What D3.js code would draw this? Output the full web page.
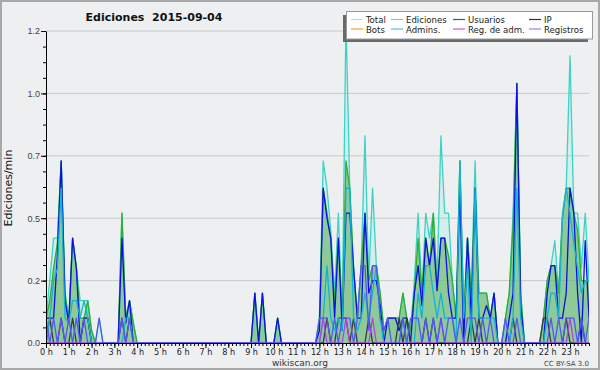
<!DOCTYPE html>
<html lang="es">
<head>
  <meta charset="UTF-8">
  <title>Ediciones 2015-09-04</title>
  <style>
    html, body { margin: 0; padding: 0; background: #fff; }
    #main { width: 600px; height: 370px; }
    svg { display: block; font-family: "DejaVu Sans", sans-serif; }
    .cond { font-family: "DejaVu Sans Condensed", "DejaVu Sans", sans-serif; font-stretch: condensed; }
  </style>
</head>
<body>
  <div id="main"></div>
  <script src="https://d3js.org/d3.v7.min.js"></script>
  <script>
    // 1. datos: ediciones/min en tramos de 10 minutos (6 por hora, 144 en total)
    const total = [
      .10, .25, .42, .42, .73, .20,  .10, .42, .30, .17, .17, .17,   // 0h 1h
      .05, 0, .10, 0, 0, 0,          0, 0, .52, .10, .17, .08,       // 2h 3h
      0, 0, 0, 0, 0, 0,  0, 0, 0, 0, 0, 0,  0, 0, 0, 0, 0, 0,  0, 0, 0, 0, 0, 0,  0, 0, 0, 0, 0, 0, // 4h-8h
      0, .20, 0, .20, 0, 0,          0, .10, 0, 0, 0, 0,             // 9h 10h
      0, 0, 0, 0, 0, 0,                                             // 11h
      .10, .73, .62, .45, .20, .52,  .10, 1.30, .62, .30, .10, .31,  // 12h 13h
      .83, .25, .62, .31, .20, .05,  .10, .10, .10, .10, .20, .10,   // 14h 15h
      .05, .25, .52, .20, .52, .42,  .52, .25, .83, .52, .52, .25,   // 16h 17h
      .10, .73, .10, .42, .20, .73,  .20, .20, .20, .10, .20, 0,     // 18h 19h
      0, .10, .20, .52, 1.04, .20,   0, 0, 0, 0, 0, .10,             // 20h 21h
      .25, .31, .41, .20, .52, .62,  1.15, .52, .52, .30, .52, .25   // 22h 23h
    ]
    const ediciones = [
      .10, .17, .30, .40, .73, .20,  .08, .42, .30, .10, .10, .17,
      .05, 0, 0, 0, 0, 0,            0, 0, .52, .10, .17, .08,
      0, 0, 0, 0, 0, 0,  0, 0, 0, 0, 0, 0,  0, 0, 0, 0, 0, 0,  0, 0, 0, 0, 0, 0,  0, 0, 0, 0, 0, 0,
      0, .20, 0, .20, 0, 0,          0, .10, 0, 0, 0, 0,
      0, 0, 0, 0, 0, 0,
      .08, .62, .52, .42, .15, .42,  .10, .73, .62, .30, .10, .31,
      .52, .25, .31, .31, .20, .05,  .10, .10, .10, .10, .20, .10,
      .05, .20, .42, .20, .42, .31,  .52, .21, .42, .42, .35, .25,
      .10, .73, .10, .42, .20, .62,  .20, .20, .20, .10, .20, 0,
      0, .10, .20, .47, 1.04, .20,   0, 0, 0, 0, 0, .10,
      .25, .31, .31, .20, .50, .62,  .62, .52, .45, .25, .25, .25
    ]
    const usuarios = [
      .10, .10, .10, .35, .73, .17,  .08, .42, .30, 0, .10, .10,
      0, 0, 0, 0, 0, 0,              0, 0, .42, .08, .17, 0,
      0, 0, 0, 0, 0, 0,  0, 0, 0, 0, 0, 0,  0, 0, 0, 0, 0, 0,  0, 0, 0, 0, 0, 0,  0, 0, 0, 0, 0, 0,
      0, .20, 0, .20, 0, 0,          0, .10, 0, 0, 0, 0,
      0, 0, 0, 0, 0, 0,
      .05, .62, .50, .42, .10, .42,  .05, .52, .52, .30, .10, .10,
      .52, .20, .25, .25, .15, 0,    .10, .10, .10, .05, .10, .10,
      0, .20, .31, .15, .42, .31,    .42, .21, .42, .42, .20, .10,
      .10, .62, 0, .42, .10, .62,    .10, .10, .15, .10, .20, 0,
      0, 0, .10, .20, 1.04, .15,     0, 0, 0, 0, 0, 0,
      .20, .31, .31, .10, .10, .20,  .62, .52, .20, 0, .41, .10
    ]
    const ip = [
      0, .10, 0, 0, .10, 0,          0, .10, 0, 0, .10, .10,
      0, 0, 0, 0, 0, 0,              0, 0, .10, 0, .10, 0,
      0, 0, 0, 0, 0, 0,  0, 0, 0, 0, 0, 0,  0, 0, 0, 0, 0, 0,  0, 0, 0, 0, 0, 0,  0, 0, 0, 0, 0, 0,
      0, 0, 0, 0, 0, 0,              0, 0, 0, 0, 0, 0,
      0, 0, 0, 0, 0, 0,
      0, 0, .10, 0, 0, .10,          .10, .10, 0, .10, 0, 0,
      0, .10, 0, 0, 0, 0,            0, 0, 0, .10, 0, .10,
      0, 0, 0, 0, .10, 0,            .10, 0, 0, 0, 0, 0,
      0, 0, 0, 0, .10, 0,            .10, 0, 0, 0, 0, 0,
      0, 0, 0, .10, 0, 0,            0, 0, 0, 0, 0, .10,
      .10, 0, 0, 0, 0, .10,          0, 0, 0, .10, 0, 0
    ]
    const admins = [
      0, .10, .25, .30, .62, .10,    .08, .17, .17, .10, .17, .10,
      0, 0, 0, 0, 0, 0,              0, 0, 0, .10, .10, 0,
      0, 0, 0, 0, 0, 0,  0, 0, 0, 0, 0, 0,  0, 0, 0, 0, 0, 0,  0, 0, 0, 0, 0, 0,  0, 0, 0, 0, 0, 0,
      0, 0, 0, 0, 0, 0,              0, 0, 0, 0, 0, 0,
      0, 0, 0, 0, 0, 0,
      0, .10, .31, .10, .05, .10,    .05, .62, .62, .10, .05, .10,
      .20, .10, .20, .31, .10, 0,    0, 0, 0, 0, .10, 0,
      0, 0, .20, .10, .31, .31,      .20, .10, .20, .10, .10, .10,
      0, .73, .10, .31, 0, .62,      .10, .10, .10, .10, .10, 0,
      0, 0, 0, .10, .62, .10,        0, 0, 0, 0, 0, 0,
      .10, .20, .20, .10, .50, .62,  .52, .40, .30, .20, .25, .25
    ]
    const registros = [
      .10, 0, .10, 0, .10, 0,        .10, 0, .10, 0, .10, 0,
      0, 0, .10, 0, 0, 0,            0, 0, .10, 0, .10, 0,
      0, 0, 0, 0, 0, 0,  0, 0, 0, 0, 0, 0,  0, 0, 0, 0, 0, 0,  0, 0, 0, 0, 0, 0,  0, 0, 0, 0, 0, 0,
      0, 0, 0, 0, 0, 0,              0, 0, 0, 0, 0, 0,
      0, 0, 0, 0, 0, 0,
      .10, .10, .10, 0, .10, 0,      .10, .10, .10, 0, .10, .31,
      .31, .05, .31, .31, .10, .05,  .10, 0, 0, 0, .10, 0,
      .10, .10, .10, 0, .10, 0,      .10, 0, .10, 0, .10, .10,
      0, .10, 0, .10, .10, .10,      0, .10, 0, .10, 0, 0,
      0, .10, 0, 0, .10, 0,          0, 0, 0, 0, 0, 0,
      0, .10, 0, .10, 0, .10,        .10, .10, 0, .10, 0, .10
    ]
    const regAdm = [
      0, 0, 0, 0, 0, 0,  0, 0, 0, 0, 0, 0,  0, 0, 0, 0, 0, 0,  0, 0, 0, 0, 0, 0,
      0, 0, 0, 0, 0, 0,  0, 0, 0, 0, 0, 0,  0, 0, 0, 0, 0, 0,  0, 0, 0, 0, 0, 0,  0, 0, 0, 0, 0, 0,
      0, 0, 0, 0, 0, 0,  0, 0, 0, 0, 0, 0,  0, 0, 0, 0, 0, 0,
      0, .10, 0, 0, 0, 0,            0, .10, 0, 0, 0, 0,
      0, 0, .10, 0, 0, 0,            0, 0, 0, 0, 0, 0,
      0, 0, 0, 0, 0, 0,              0, 0, .10, 0, 0, 0,
      0, 0, 0, 0, 0, 0,              0, 0, 0, 0, 0, 0,
      0, 0, 0, 0, 0, 0,              0, 0, 0, 0, 0, 0,
      0, 0, 0, 0, 0, 0,              .10, 0, 0, 0, 0, 0
    ]
    const bots = [] // sin ediciones de bots ese día

    const hourLabels = ['0 h', '1 h', '2 h', '3 h', '4 h', '5 h', '6 h', '7 h', '8 h', '9 h', '10 h', '11 h',
      '12 h', '13 h', '14 h', '15 h', '16 h', '17 h', '18 h', '19 h', '20 h', '21 h', '22 h', '23 h']
    const yTickValues = [0, 0.25, 0.5, 0.75, 1, 1.25]
    const yTickLabels = ['0.0', '0.2', '0.5', '0.7', '1.0', '1.2']

    const legendNames = ['Total', 'Ediciones', 'Usuarios', 'IP', 'Bots', 'Admins.', 'Reg. de adm.', 'Registros']
    const legendColors = ['#a6e6de', '#8ccf8c', '#4444dd', '#333333', '#ff9a33', '#44c6dc', '#cc55e0', '#8a8aee']

    // 2. contenedor
    const [width, height] = [600, 370]
    const svg = d3.select('#main').append('svg')
      .attr('width', width)
      .attr('height', height)
      .attr('viewBox', `0 0 ${width} ${height}`)

    svg.append('rect')
      .attr('x', 1).attr('y', 1)
      .attr('width', width - 2).attr('height', height - 2)
      .attr('fill', '#eeeff1')
      .attr('stroke', '#a8a8a8')
      .attr('stroke-width', 2)

    // 3. escalas
    const plot = { left: 46, right: 589, top: 31, bottom: 343 }
    const xScale = d3.scaleLinear().domain([0, 143]).range([plot.left, plot.right])
    const yScale = d3.scaleLinear().domain([0, 1.25]).range([plot.bottom, plot.top])

    // rejilla
    svg.append('g').selectAll('line')
      .data(yTickValues.slice(1))
      .join('line')
      .attr('x1', plot.left).attr('x2', plot.right)
      .attr('y1', d => yScale(d)).attr('y2', d => yScale(d))
      .attr('stroke', '#c9c9c9')

    svg.append('clipPath').attr('id', 'clip')
      .append('rect')
      .attr('x', plot.left).attr('y', plot.top)
      .attr('width', plot.right - plot.left).attr('height', plot.bottom - plot.top)

    const g = svg.append('g').attr('clip-path', 'url(#clip)')

    // 4. áreas
    const area = d3.area()
      .x((d, i) => xScale(i))
      .y0(yScale(0))
      .y1(d => yScale(d))

    g.append('path').datum(total)
      .attr('d', area)
      .attr('fill', '#40e0d0').attr('fill-opacity', 0.14)

    g.append('path').datum(ediciones)
      .attr('d', area)
      .attr('fill', '#62b462').attr('fill-opacity', 0.62)

    // 5. líneas
    const line = d3.line()
      .x((d, i) => xScale(i))
      .y(d => yScale(d))

    const series = [
      { data: total, color: '#3ad4c4' },
      { data: ediciones, color: '#2fae2f' },
      { data: usuarios, color: '#0b10e8' },
      { data: ip, color: '#3a3a3a' },
      { data: bots, color: '#ff8c1a' },
      { data: admins, color: '#12b4d6' },
      { data: regAdm, color: '#b740e8' },
      { data: registros, color: '#5656f2' }
    ]

    g.selectAll('path.serie')
      .data(series.filter(s => s.data.length))
      .join('path')
      .attr('class', 'serie')
      .attr('d', d => line(d.data))
      .attr('fill', 'none')
      .attr('stroke', d => d.color)
      .attr('stroke-width', 1.3)
      .attr('stroke-linejoin', 'round')

    // 6. ejes
    const yAxis = svg.append('g')
      .attr('transform', `translate(${plot.left}, 0)`)
      .call(d3.axisLeft(yScale).tickValues(yTickValues)
        .tickFormat((d, i) => yTickLabels[i]).tickSize(5).tickPadding(1).tickSizeOuter(0))
    yAxis.selectAll('text').style('font-size', '9px').attr('fill', '#444')
    svg.append('g')
      .attr('transform', `translate(${plot.left}, 0)`)
      .call(d3.axisLeft(yScale).tickValues(d3.range(0, 1.26, 0.0625))
        .tickFormat('').tickSize(3).tickSizeOuter(0))
      .select('.domain').remove()

    svg.append('g')
      .attr('transform', `translate(0, ${plot.bottom})`)
      .call(d3.axisBottom(xScale).tickValues(d3.range(0, 144))
        .tickFormat('').tickSize(3).tickSizeOuter(0))
    const xAxis = svg.append('g')
      .attr('transform', `translate(0, ${plot.bottom})`)
      .call(d3.axisBottom(xScale).tickValues(hourLabels.map((d, i) => i * 6))
        .tickFormat((d, i) => hourLabels[i]).tickSize(5).tickPadding(1).tickSizeOuter(0))
    xAxis.selectAll('text').attr('class', 'cond').style('font-size', '9px').attr('fill', '#222')

    // 7. textos
    svg.append('text')
      .attr('x', 154).attr('y', 21)
      .attr('text-anchor', 'middle')
      .style('font-size', '11px').style('font-weight', 'bold')
      .style('white-space', 'pre')
      .attr('fill', '#111')
      .text('Ediciones  2015-09-04')

    svg.append('text')
      .attr('transform', 'translate(12, 188) rotate(-90)')
      .attr('text-anchor', 'middle')
      .style('font-size', '11px')
      .attr('fill', '#111')
      .text('Ediciones/min')

    svg.append('text')
      .attr('x', 300).attr('y', 366)
      .attr('text-anchor', 'middle')
      .style('font-size', '9px')
      .attr('fill', '#333')
      .text('wikiscan.org')

    svg.append('text')
      .attr('x', 589).attr('y', 366)
      .attr('text-anchor', 'end')
      .style('font-size', '7px')
      .attr('fill', '#444')
      .text('CC BY-SA 3.0')

    // 8. leyenda
    const legend = svg.append('g')
    legend.append('rect')
      .attr('x', 343).attr('y', 15).attr('width', 245).attr('height', 27)
      .attr('fill', '#6a6a6a')
    legend.append('rect')
      .attr('x', 346.5).attr('y', 11.5).attr('width', 246).attr('height', 27.5)
      .attr('fill', '#fff').attr('stroke', '#9a9a9a')

    const colX = [351, 391, 453, 529]
    const rowY = [19.5, 29]
    const item = legend.selectAll('g.item')
      .data(legendNames)
      .join('g')
      .attr('class', 'item')
      .attr('transform', (d, i) => `translate(${colX[i % 4]}, ${rowY[Math.floor(i / 4)]})`)
    item.append('line')
      .attr('x1', 0).attr('x2', 12)
      .attr('stroke', (d, i) => legendColors[i]).attr('stroke-width', 1.2)
    item.append('text')
      .attr('class', 'cond')
      .attr('x', 15).attr('y', 3.5)
      .style('font-size', '9.5px')
      .attr('fill', '#222')
      .text(d => d)
  </script>
</body>
</html>
